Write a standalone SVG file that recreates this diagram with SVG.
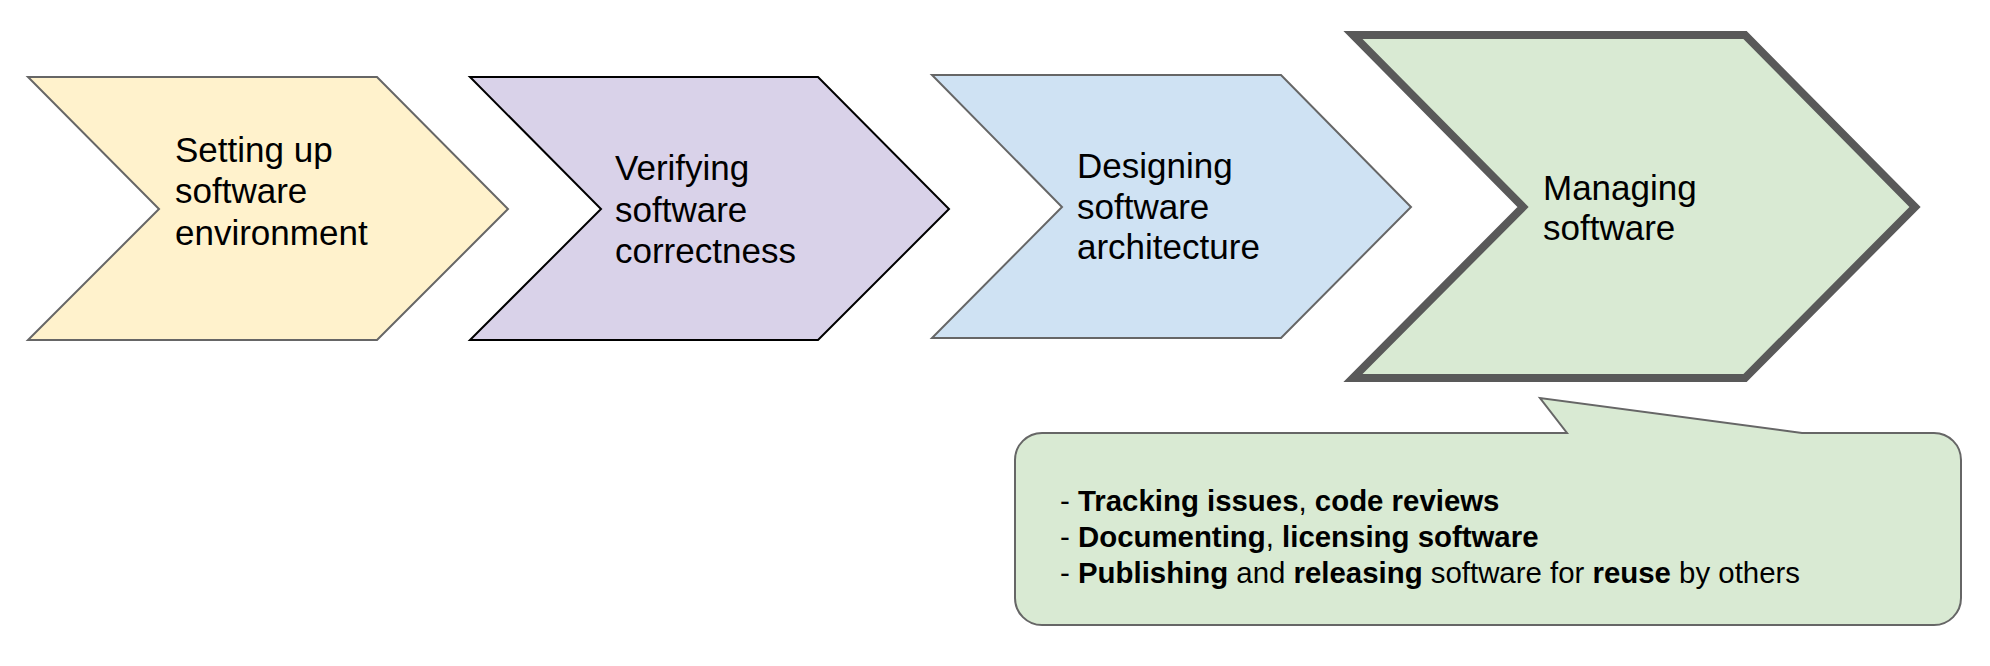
<svg xmlns="http://www.w3.org/2000/svg" width="1990" height="666" viewBox="0 0 1990 666">
<style>
  .lbl { font-family: "Liberation Sans", Arial, sans-serif; font-size: 35px; fill: #000000; }
  .note { font-family: "Liberation Sans", Arial, sans-serif; font-size: 29.4px; fill: #000000; }
  .b { font-weight: bold; }
  .shape { stroke-linejoin: miter; }
</style>
<rect width="1990" height="666" fill="#ffffff"/>
<g id="step1">
  <polygon class="shape" points="28,77 377,77 508,209 377,340 28,340 159,209" fill="#fff2cc" stroke="#666666" stroke-width="2"/>
  <text class="lbl"><tspan x="175" y="162">Setting up</tspan><tspan x="175" y="203">software</tspan><tspan x="175" y="245">environment</tspan></text>
</g>
<g id="step2">
  <polygon class="shape" points="470,77 818,77 949,209 818,340 470,340 601,209" fill="#d9d2e9" stroke="#000000" stroke-width="2"/>
  <text class="lbl"><tspan x="615" y="180">Verifying</tspan><tspan x="615" y="222">software</tspan><tspan x="615" y="263">correctness</tspan></text>
</g>
<g id="step3">
  <polygon class="shape" points="932,75 1281,75 1411,207 1281,338 932,338 1062,207" fill="#cfe2f3" stroke="#666666" stroke-width="2"/>
  <text class="lbl"><tspan x="1077" y="178">Designing</tspan><tspan x="1077" y="219">software</tspan><tspan x="1077" y="259">architecture</tspan></text>
</g>
<g id="step4">
  <polygon class="shape" points="1353,35 1745,35 1915,207 1745,378 1353,378 1523,207" fill="#d9ead3" stroke="#595959" stroke-width="8" stroke-linejoin="round"/>
  <text class="lbl"><tspan x="1543" y="200">Managing</tspan><tspan x="1543" y="240">software</tspan></text>
</g>
<g id="callout">
  <path d="M1042,433 L1567,433 L1540,398 L1802,433 L1934,433 A27,27 0 0 1 1961,460 L1961,598 A27,27 0 0 1 1934,625 L1042,625 A27,27 0 0 1 1015,598 L1015,460 A27,27 0 0 1 1042,433 Z" fill="#d9ead3" stroke="#666666" stroke-width="2"/>
  <text class="note" x="1060" y="511">- <tspan class="b">Tracking issues</tspan>, <tspan class="b">code reviews</tspan></text>
  <text class="note" x="1060" y="547">- <tspan class="b">Documenting</tspan>, <tspan class="b">licensing software</tspan></text>
  <text class="note" x="1060" y="583">- <tspan class="b">Publishing</tspan> and <tspan class="b">releasing</tspan> software for <tspan class="b">reuse</tspan> by others</text>
</g>
<g id="connectors"/>
</svg>
